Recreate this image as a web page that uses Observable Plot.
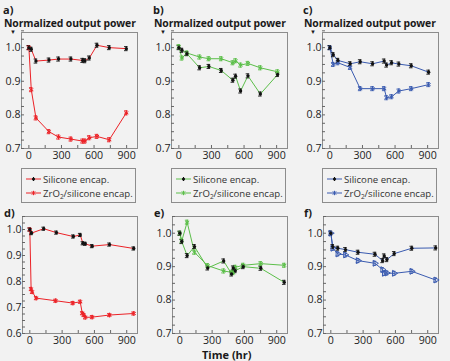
<!DOCTYPE html>
<html><head><meta charset="utf-8">
<script src="https://cdn.jsdelivr.net/npm/d3@7"></script>
<script src="https://cdn.jsdelivr.net/npm/@observablehq/plot@0.6"></script>
<style>
html,body{margin:0;padding:0;background:#f2f2f2;}
#root{position:relative;width:450px;height:361px;background:#f2f2f2;font-family:"Open Sans",sans-serif;color:#1a1a1a;overflow:hidden}
.abs{position:absolute;white-space:nowrap;line-height:1}
.lab{font-weight:bold;font-size:11px}
.ttl{font-weight:bold;font-size:10.4px;letter-spacing:-0.1px}
.tri{font-size:6px}
.leg{position:absolute;width:115px;height:35px;border:1px solid #8c8c8c;box-sizing:border-box;font-size:9.6px;color:#333}
.leg .row{position:absolute;left:3px;height:12px;display:flex;align-items:center;white-space:nowrap}
.leg svg{margin-right:1px}
.leg .sb{font-size:6.5px;position:relative;top:2.5px}
.panel{position:absolute}
</style></head>
<body><div id="root"></div>
<script>
// ---------- data ----------
const panelLetters = ["a)","b)","c)","d)","e)","f)"];
const seriesNames = ["Silicone encap.","ZrO2/silicone encap."];
const yTickLabelsTop = [0.7,0.8,0.9,1.0];
const yTickLabelsD = [0.6,0.7,0.8,0.9,1.0];
const xTickLabels = [0,300,600,900];

// panel a
const tA = [0,22,65,185,273,387,495,516,556,627,740,897];
const aSi = [1.0,0.995,0.960,0.963,0.966,0.966,0.962,0.961,0.969,1.007,1.0,0.997];
const aZr = [1.0,0.875,0.791,0.750,0.734,0.728,0.722,0.722,0.732,0.736,0.726,0.806];
// panel b
const tB = [0,28,74,191,276,390,497,522,568,636,750,909];
const bSi = [1.0,0.992,0.982,0.940,0.944,0.932,0.903,0.915,0.871,0.916,0.862,0.920];
const bZr = [1.003,0.969,0.984,0.972,0.967,0.967,0.955,0.961,0.948,0.953,0.940,0.928];
// panel c
const tC = [0,31,74,187,279,393,500,522,568,635,749,909];
const cSi = [1.0,0.979,0.962,0.952,0.958,0.952,0.960,0.948,0.955,0.951,0.946,0.927];
const cZr = [1.0,0.950,0.955,0.941,0.878,0.878,0.878,0.851,0.854,0.871,0.878,0.890];
// panel d
const tDSi = [0,15,129,247,404,468,493,515,579,740,965];
const dSi = [1.0,0.986,1.003,0.988,0.973,0.979,0.947,0.945,0.936,0.942,0.927];
const tDZr = [0,12,22,59,240,400,468,487,502,515,579,740,965];
const dZr = [1.0,0.771,0.760,0.736,0.726,0.717,0.722,0.678,0.671,0.662,0.663,0.671,0.677];
// panel e
const tE = [0,18,68,136,259,407,481,496,515,589,752,970];
const eSi = [1.0,0.975,0.933,0.960,0.896,0.917,0.878,0.896,0.888,0.900,0.895,0.853];
const eZr = [1.0,0.977,1.033,0.943,0.903,0.887,0.883,0.882,0.898,0.904,0.909,0.904];
// panel f
const tF = [0,18,65,136,253,410,481,496,521,589,752,974];
const fSi = [1.0,0.960,0.955,0.951,0.943,0.937,0.918,0.932,0.921,0.939,0.955,0.956];
const fZr = [1.0,0.955,0.938,0.935,0.918,0.910,0.891,0.880,0.881,0.880,0.886,0.860];

const errSi = 0.006, errZr = 0.006;
const RED = "#ec2227", GREEN = "#5cbf4a", BLUE = "#3a5bb0", BLACK = "#111";

// ---------- drawing ----------
const root = document.getElementById("root");
function add(el){root.appendChild(el);return el;}
function div(cls, html, left, topPx){const d=document.createElement("div");d.className="abs "+cls;d.innerHTML=html;d.style.left=left+"px";d.style.top=topPx+"px";return add(d);}

function rows(t, v, s){return t.map((x,i)=>({t:x, v:v[i], s}));}

function panel(opt){
  const si = rows(opt.tSi, opt.si, "si"), zr = rows(opt.tZr, opt.zr, "zr");
  const yminor = d3.range(opt.yDomain[0], 1.0501, 0.025);
  const marks = [
    Plot.frame({stroke:"#8c8c8c"}),
    Plot.axisX({ticks:d3.range(0,1001,150), tickSize:3, dy:-3, tickFormat:()=>"", stroke:"#666", label:null}),
    Plot.axisY({ticks:yminor, tickSize:3, dx:3, tickFormat:()=>"", stroke:"#666", label:null}),
    Plot.axisX({ticks:xTickLabels, tickSize:0, tickPadding:3, tickFormat:d=>String(d), fill:"#222", label:null}),
    Plot.axisY({ticks:opt.yLabels, tickSize:0, tickPadding:1, tickFormat:d3.format(".1f"), fill:"#222", label:null}),
    Plot.line(zr, {x:"t", y:"v", stroke:opt.color, strokeWidth:1}),
    Plot.line(si, {x:"t", y:"v", stroke:opt.color, strokeWidth:1}),
  ];
  for (const [data, err, col] of [[zr, errZr, opt.color],[si, errSi, BLACK]]) {
    marks.push(Plot.ruleX(data, {x:"t", y1:d=>d.v-err, y2:d=>d.v+err, stroke:col, strokeWidth:0.9}));
    marks.push(Plot.ruleY(data, {y:d=>d.v-err, x1:"t", x2:"t", insetLeft:-1.8, insetRight:-1.8, stroke:col, strokeWidth:0.9}));
    marks.push(Plot.ruleY(data, {y:d=>d.v+err, x1:"t", x2:"t", insetLeft:-1.8, insetRight:-1.8, stroke:col, strokeWidth:0.9}));
  }
  marks.push(Plot.dot(zr, {x:"t", y:"v", symbol:opt.zrSymbol, r:2.2, stroke:opt.color, fill:"none", strokeWidth:1, rotate:opt.zrRotate||0}));
  marks.push(Plot.dot(si, {x:"t", y:"v", r:1.7, fill:BLACK, stroke:null}));
  const p = Plot.plot({
    width:150, height:opt.h, marginLeft:opt.ml, marginRight:opt.mr, marginTop:opt.mt, marginBottom:opt.mb,
    style:{background:"transparent", fontFamily:"'Open Sans',sans-serif", fontSize:"10.6px", color:"#222", overflow:"visible"},
    x:{domain:[-68,1000], label:null},
    y:{domain:opt.yDomain, label:null},
    marks
  });
  p.classList.add("panel");
  p.style.left = opt.left+"px"; p.style.top = opt.topPx+"px";
  add(p);
}

const topRow = {h:166, mt:32, mb:18, ml:21, mr:13, yDomain:[0.7,1.045], yLabels:yTickLabelsTop, topPx:0, zrSymbol:"asterisk"};
panel({...topRow, left:0, color:RED, tSi:tA, si:aSi, tZr:tA, zr:aZr});
panel({...topRow, left:150, color:GREEN, tSi:tB, si:bSi, tZr:tB, zr:bZr});
panel({...topRow, left:300, ml:22, mr:12, color:BLUE, tSi:tC, si:cSi, tZr:tC, zr:cZr});
const botRow = {h:181, mt:36, mb:28, ml:22, mr:13, topPx:180, zrSymbol:"asterisk"};
panel({...botRow, left:0, yDomain:[0.6,1.05], yLabels:yTickLabelsD, color:RED, tSi:tDSi, si:dSi, tZr:tDZr, zr:dZr});
panel({...botRow, left:150, yDomain:[0.7,1.05], yLabels:yTickLabelsTop, color:GREEN, tSi:tE, si:eSi, tZr:tE, zr:eZr});
panel({...botRow, left:300, ml:23, mr:12, yDomain:[0.7,1.05], yLabels:yTickLabelsTop, color:BLUE, tSi:tF, si:fSi, tZr:tF, zr:fZr, zrSymbol:"triangle", zrRotate:90});

// titles
[0,150,300].forEach((x,i)=>{
  div("lab", panelLetters[i], x+3, 4);
  div("ttl", "Normalized output power", x+4, 17.5);
  div("tri", "▼", x+10, 29);
});
[0,150,300].forEach((x,i)=>{
  div("lab", panelLetters[i+3], x+4, 207);
});
div("lab", "Time (hr)", 202, 348.5);

// legends
const legColors = [RED, GREEN, BLUE];
const legLefts = [21, 171, 322];
legColors.forEach((c,i)=>{
  const L = document.createElement("div"); L.className="leg";
  L.style.left = legLefts[i]+"px"; L.style.top = "168px";
  const sym = `<svg width="17" height="10"><line x1="1" x2="16" y1="5" y2="5" stroke="${c}" stroke-width="1"/>`;
  L.innerHTML =
   `<div class="row" style="top:4px">${sym}<circle cx="8.5" cy="5" r="1.6" fill="#111"/><line x1="8.5" x2="8.5" y1="3" y2="7" stroke="#111"/></svg><span>${seriesNames[0]}</span></div>`+
   `<div class="row" style="top:18px">${sym}<path d="M6.8,3.3L10.2,6.7M10.2,3.3L6.8,6.7M8.5,2.8V7.2" stroke="${c}" stroke-width="1" fill="none"/></svg><span>ZrO<span class="sb">2</span>/silicone encap.</span></div>`;
  add(L);
});
</script></body></html>
